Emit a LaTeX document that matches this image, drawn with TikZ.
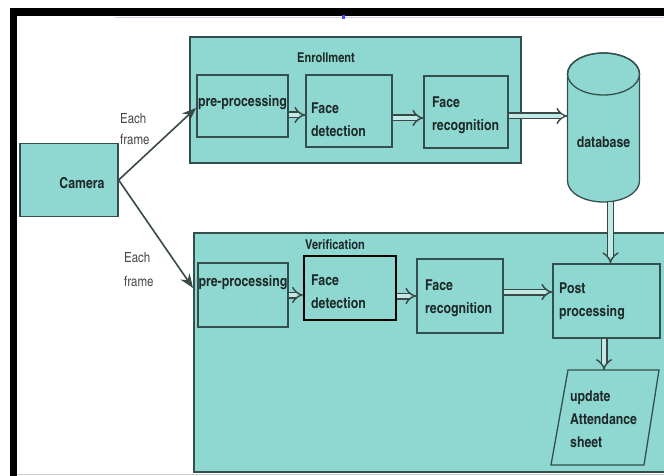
\documentclass[tikz,border=0pt]{standalone}
\usepackage{fontspec}
\usetikzlibrary{arrows.meta,calc}
\newfontfamily\cnb{texgyreheroscn-bold.otf}
\newfontfamily\cnr{texgyreheroscn-regular.otf}
\definecolor{tealc}{HTML}{8ED8D1}
\definecolor{bordc}{HTML}{34504E}
\definecolor{arrc}{HTML}{3A4847}
\definecolor{txtc}{HTML}{1E2A2A}
\definecolor{lblc}{HTML}{4A4A4A}
\begin{document}
\begin{tikzpicture}[x=1pt,y=-1pt,
  box/.style={draw=bordc, fill=tealc, line width=1.3pt, inner sep=0pt},
  cont/.style={draw=bordc, fill=tealc, line width=1.4pt, inner sep=0pt},
  txt/.style={font=\cnb\fontsize{15}{23}\selectfont, align=left, inner sep=0pt, text=txtc},
  lbl/.style={font=\cnr\fontsize{14}{22}\selectfont, align=left, inner sep=0pt, text=lblc},
  fat/.style={draw=arrc, line width=1.4pt, double=tealc!55!white, double distance=4.2pt, -{Implies}},
  cama/.style={draw=arrc, line width=1.6pt, -{Stealth[length=14pt,width=11pt]}}]
\useasboundingbox (0,0) rectangle (664,476);
\clip (0,0) rectangle (664,476);
\fill[white] (0,0) rectangle (664,476);
% screen frame
\fill[black] (10,8) rectangle (664,16);
\fill[black] (10,8) rectangle (17,476);
\draw[blue!18, line width=1.2pt] (115,17.2) -- (664,17.2);
\fill[blue!70] (342,15) rectangle (345,19);
\draw[gray!40, line width=0.8pt] (17,474.5) -- (664,474.5);

% containers
\node[cont, minimum width=331, minimum height=126] (enr) at (355.5,100) {};
\node[cont, minimum width=480, minimum height=239] (ver) at (434,352.5) {};
\node[txt, font=\cnb\fontsize{13.5}{16}\selectfont] (enrl) at (326,58) {Enrollment};
\node[txt, font=\cnb\fontsize{13.5}{16}\selectfont] (verl) at (335,245) {Verification};

% camera
\node[box, minimum width=98, minimum height=73] (cam) at (69,180) {};
\node[txt] (camt) at (82,183) {Camera};

% enrollment boxes
\node[box, minimum width=91, minimum height=62] (epre) at (242.5,106) {};
\node[txt] (epret) at (242.5,103) {pre-processing};
\node[box, minimum width=86, minimum height=72] (efd) at (349,111) {};
\node[txt, anchor=west] (efdt) at (311,120) {Face\\detection};
\node[box, minimum width=84, minimum height=72] (efr) at (466,112) {};
\node[txt, anchor=west] (efrt) at (432,115.5) {Face\\recognition};

% database
\node[minimum width=72, minimum height=151, inner sep=0pt] (db) at (603.5,127.5) {};
\draw[box] (567.5,74) -- (567.5,181) arc[start angle=180, end angle=0, x radius=36, y radius=21]
  -- (639.5,74) arc[start angle=0, end angle=-180, x radius=36, y radius=21] -- cycle;
\draw[draw=bordc, line width=1.3pt] (603.5,74) ellipse[x radius=36, y radius=21];
\node[txt] (dbt) at (603.5,142) {database};

% verification boxes
\node[box, minimum width=90, minimum height=64] (vpre) at (243,295) {};
\node[txt] (vpret) at (243,283) {pre-processing};
\node[box, draw=black, line width=2pt, minimum width=92, minimum height=64] (vfd) at (350,288) {};
\node[txt, anchor=west] (vfdt) at (311,291.5) {Face\\detection};
\node[box, minimum width=86, minimum height=74] (vfr) at (460,296) {};
\node[txt, anchor=west] (vfrt) at (425,298) {Face\\recognition};
\node[box, minimum width=107, minimum height=74] (post) at (606.5,301) {};
\node[txt, anchor=west] (postt) at (559,301.5) {Post\\processing};

% update attendance sheet
\draw[box] (568,370) -- (659,370) -- (644,465) -- (551,465) -- cycle;
\coordinate (updtop) at (604,370);
\node[txt, anchor=west] (updt) at (570,419) {update\\Attendance\\sheet};

% camera arrows and labels
\coordinate (etip) at (196,108);
\coordinate (vtip) at (193,288);
\draw[cama] (cam.east) -- (etip);
\draw[cama] (cam.east) -- (vtip);
\node[lbl, anchor=west, font=\cnr\fontsize{14}{21}\selectfont] (ef1) at (120,129) {Each\\frame};
\node[lbl, anchor=west, font=\cnr\fontsize{14}{24}\selectfont] (ef2) at (124,270) {Each\\frame};

% start points of fat arrows
\coordinate (a1) at ($(epre.east)+(0,9)$);
\coordinate (a2) at ($(efd.east)+(0,7)$);
\coordinate (a3) at ($(efr.east)+(0,4)$);
\coordinate (a4) at ($(db.south)+(7,-1)$);
\coordinate (b2) at ($(vfd.east)+(0,8)$);
\coordinate (b3) at ($(vfr.east)+(0,-4)$);

% fat arrows enrollment
\draw[fat] (a1) -- (a1 -| efd.west);
\draw[fat] (a2) -- (a2 -| efr.west);
\draw[fat] (a3) -- (a3 -| db.west);
\draw[fat] (a4) -- (a4 |- post.north);
% fat arrows verification
\draw[fat] (vpre.east) -- (vpre.east -| vfd.west);
\draw[fat] (b2) -- (b2 -| vfr.west);
\draw[fat] (b3) -- (b3 -| post.west);
\draw[fat] (post.south -| updtop) -- (updtop);
\end{tikzpicture}
\end{document}
